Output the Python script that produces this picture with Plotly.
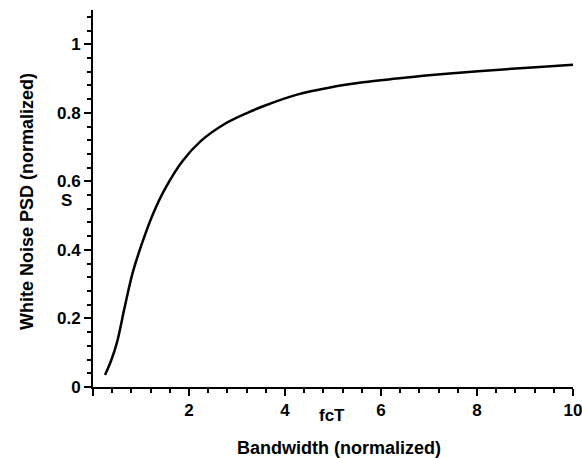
import plotly.graph_objects as go

# Data
bandwidth = [0.25, 0.38, 0.5, 0.66, 0.83, 1.04, 1.25, 1.5, 1.87, 2.25, 2.75, 3.25, 3.56,
             4.25, 4.94, 5.63, 6.33, 6.88, 7.43, 8.47, 9.3, 10.0]
psd = [0.035, 0.078, 0.13, 0.233, 0.335, 0.427, 0.505, 0.578, 0.66, 0.718, 0.768, 0.802, 0.82,
       0.853, 0.874, 0.889, 0.9, 0.908, 0.915, 0.926, 0.934, 0.94]
x_tickvals = [0, 2, 4, 6, 8, 10]
x_ticktext = ["", "2", "4", "6", "8", "10"]
y_tickvals = [0, 0.2, 0.4, 0.6, 0.8, 1]
y_ticktext = ["0", "0.2", "0.4", "0.6", "0.8", "1"]

TICKFONT = dict(family="Liberation Sans, Arial", size=17, color="black", weight="bold")
TITLEFONT = dict(family="Liberation Sans, Arial", size=18, color="black", weight="bold")

fig = go.Figure()
fig.add_trace(go.Scatter(x=bandwidth, y=psd, mode="lines",
                         line=dict(color="black", width=2.5, shape="spline", smoothing=1.0),
                         showlegend=False, hoverinfo="skip"))

W, H = 582, 458
L, R, T, B = 93, 9, 10, 71

fig.update_layout(
    width=W, height=H,
    margin=dict(l=L, r=R, t=T, b=B, pad=0),
    paper_bgcolor="white", plot_bgcolor="white",
    xaxis=dict(range=[0, 10], tickmode="array", tickvals=x_tickvals, ticktext=x_ticktext,
               automargin=False,
               showgrid=False, zeroline=False, showline=True, linecolor="black", linewidth=2,
               ticks="outside", ticklen=7, tickwidth=2, tickcolor="black", tickfont=TICKFONT,
               ticklabeloverflow="allow",
               minor=dict(tickmode="linear", tick0=0, dtick=0.4, ticks="outside", ticklen=4,
                          tickwidth=1.5, tickcolor="black", showgrid=False)),
    yaxis=dict(range=[0, 1.1], tickmode="array", tickvals=y_tickvals, ticktext=y_ticktext,
               automargin=False,
               showgrid=False, zeroline=False, showline=True, linecolor="black", linewidth=2,
               ticks="outside", ticklen=7, tickwidth=2, tickcolor="black", tickfont=TICKFONT,
               ticklabeloverflow="allow",
               minor=dict(tickmode="linear", tick0=0, dtick=0.04, ticks="outside", ticklen=4,
                          tickwidth=1.5, tickcolor="black", showgrid=False)),
)

pw = W - L - R
ph = H - T - B
def px_x(p):
    return (p - L) / pw
def px_y(p):
    return (H - B - p) / ph

fig.add_annotation(text="Bandwidth (normalized)", xref="paper", yref="paper",
                   x=px_x(339), y=px_y(448), showarrow=False, font=TITLEFONT,
                   xanchor="center", yanchor="middle")
fig.add_annotation(text="White Noise PSD (normalized)", xref="paper", yref="paper",
                   x=px_x(27), y=px_y(202), showarrow=False, font=TITLEFONT, textangle=-90,
                   xanchor="center", yanchor="middle")
fig.add_annotation(text="S", xref="paper", yref="paper",
                   x=px_x(66), y=px_y(200), showarrow=False, font=TICKFONT,
                   xanchor="center", yanchor="middle")
fig.add_annotation(text="fcT", xref="paper", yref="paper",
                   x=px_x(332), y=px_y(415), showarrow=False, font=TICKFONT,
                   xanchor="center", yanchor="middle")

fig.write_html("out.html")
